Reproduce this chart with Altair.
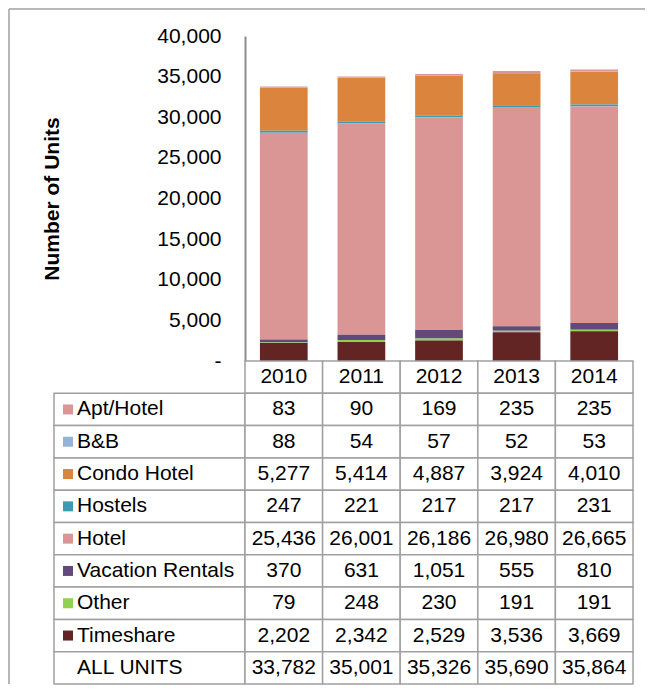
import altair as alt
import pandas as pd

years = ["2010", "2011", "2012", "2013", "2014"]
categories = ["Apt/Hotel", "B&B", "Condo Hotel", "Hostels", "Hotel",
              "Vacation Rentals", "Other", "Timeshare"]
apt_hotel = [83, 90, 169, 235, 235]
bnb = [88, 54, 57, 52, 53]
condo_hotel = [5277, 5414, 4887, 3924, 4010]
hostels = [247, 221, 217, 217, 231]
hotel = [25436, 26001, 26186, 26980, 26665]
vacation_rentals = [370, 631, 1051, 555, 810]
other = [79, 248, 230, 191, 191]
timeshare = [2202, 2342, 2529, 3536, 3669]
all_units = [33782, 35001, 35326, 35690, 35864]
colors = ["#D99694", "#95B3D7", "#DB843D", "#3D9CB4", "#D99694",
          "#604A7B", "#92D050", "#632523"]

series = [apt_hotel, bnb, condo_hotel, hostels, hotel, vacation_rentals, other, timeshare]

FONT = "Liberation Sans"
GRID = "#A0A0A0"
FS = 21

# ---------- long data for the bars ----------
rows = []
for i, (cat, vals) in enumerate(zip(categories, series)):
    for y, v in zip(years, vals):
        rows.append({"category": cat, "year": y, "value": v, "order": len(categories) - i})
bar_df = pd.DataFrame(rows)

# ---------- table data ----------
row_names = ["header"] + categories + ["ALL UNITS"]
cells = []
for y in years:
    cells.append({"row": "header", "year": y, "text": y})
for cat, vals in zip(categories, series):
    for y, v in zip(years, vals):
        cells.append({"row": cat, "year": y, "text": f"{v:,}"})
for y, v in zip(years, all_units):
    cells.append({"row": "ALL UNITS", "year": y, "text": f"{v:,}"})
cell_df = pd.DataFrame(cells)

label_df = pd.DataFrame({
    "row": categories + ["ALL UNITS"],
    "col": ["label"] * (len(categories) + 1),
    "swatch": categories + ["none"],
})

PLOT_W = 388
LABEL_W = 191
BAR_H = 325
TABLE_H = 323

# ---------- placeholder with frame lines ----------
one = pd.DataFrame({"k": [0]})
frame_left = alt.Chart(one).mark_rule(color=GRID, strokeWidth=1.5).encode(
    x=alt.value(-45), y=alt.value(-27), y2=alt.value(BAR_H + TABLE_H)
)
frame_top = alt.Chart(one).mark_rule(color=GRID, strokeWidth=1.5).encode(
    x=alt.value(-45), x2=alt.value(591), y=alt.value(-27)
)
placeholder = alt.layer(frame_left, frame_top).properties(width=LABEL_W, height=BAR_H)

# ---------- bars ----------
bars = alt.Chart(bar_df).mark_bar().encode(
    x=alt.X("year:N", sort=years, axis=None,
            scale=alt.Scale(paddingInner=0.385, paddingOuter=0.1925)),
    y=alt.Y("value:Q", stack="zero",
            scale=alt.Scale(domain=[0, 40000], nice=False),
            axis=alt.Axis(
                values=list(range(0, 40001, 5000)),
                labelExpr="datum.value == 0 ? '-\u00a0\u00a0' : format(datum.value, ',')",
                title="Number of Units",
                titleFont=FONT, titleFontSize=FS, titleFontWeight="bold",
                titleColor="black", titlePadding=94,
                labelFont=FONT, labelFontSize=FS, labelColor="black",
                labelPadding=24, ticks=False, grid=False,
                domainColor="#8C8C8C", domainWidth=2,
            )),
    color=alt.Color("category:N", scale=alt.Scale(domain=categories, range=colors), legend=None),
    order=alt.Order("order:Q", sort="ascending"),
).properties(width=PLOT_W, height=BAR_H)

# ---------- value table ----------
ybase = alt.Y("row:N", sort=row_names, axis=None,
              scale=alt.Scale(domain=row_names, paddingInner=0, paddingOuter=0))
xval = alt.X("year:N", sort=years, axis=None,
             scale=alt.Scale(paddingInner=0, paddingOuter=0))

val_rect = alt.Chart(cell_df).mark_rect(fill="white", stroke=GRID, strokeWidth=1.5).encode(
    x=xval, y=ybase)
val_text = alt.Chart(cell_df).mark_text(font=FONT, fontSize=FS, color="black",
                                        align="center", baseline="middle").encode(
    x=xval, y=ybase, text="text:N")
values_tbl = alt.layer(val_rect, val_text).properties(width=PLOT_W, height=TABLE_H)

# ---------- label table ----------
xlab = alt.X("col:N", axis=None, scale=alt.Scale(paddingInner=0, paddingOuter=0))
lab_rect = alt.Chart(label_df).mark_rect(fill="white", stroke=GRID, strokeWidth=1.5).encode(
    x=xlab, y=ybase)
lab_swatch = alt.Chart(label_df).transform_filter(
    alt.datum.swatch != "none"
).mark_square(size=100, opacity=1).encode(
    x=alt.value(14), y=ybase,
    color=alt.Color("swatch:N", scale=alt.Scale(domain=categories, range=colors), legend=None))
lab_text = alt.Chart(label_df).mark_text(font=FONT, fontSize=FS, color="black",
                                         align="left", baseline="middle").encode(
    x=alt.value(23), y=ybase, text="row:N")
labels_tbl = alt.layer(lab_rect, lab_swatch, lab_text).properties(width=LABEL_W, height=TABLE_H)

chart = alt.concat(
    placeholder, bars, labels_tbl, values_tbl,
    columns=2, spacing=0, bounds="flush", align="each",
).properties(padding=0).configure_view(stroke=None)

chart.save("out.html", embed_options={"renderer": "svg", "actions": False})
